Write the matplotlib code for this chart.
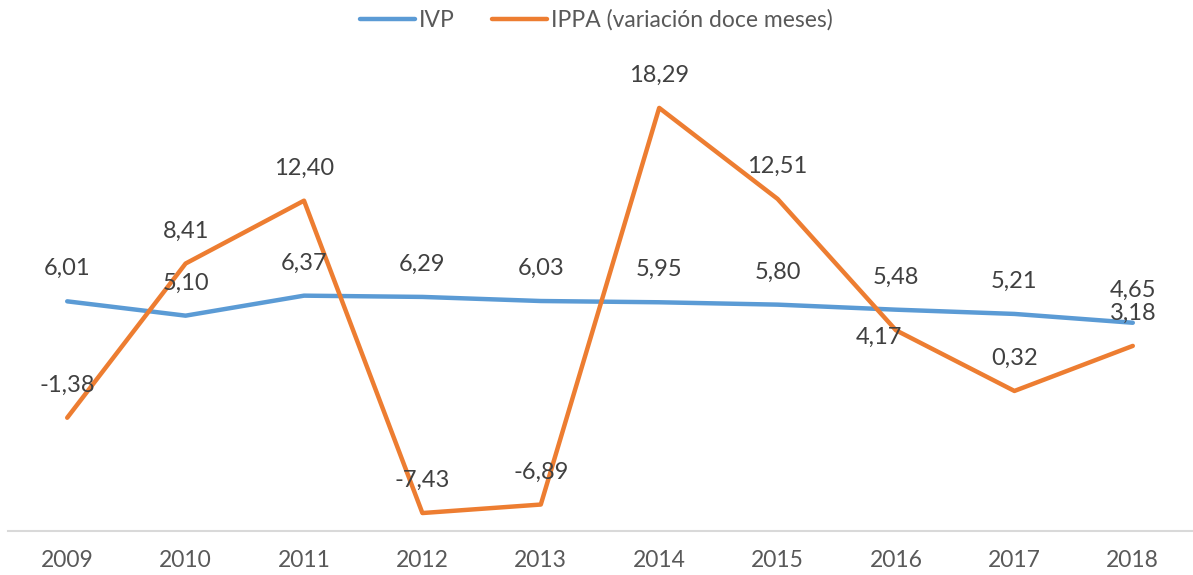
import matplotlib
matplotlib.use("Agg")
import matplotlib.pyplot as plt

plt.rcParams['font.family'] = ['Lato', 'DejaVu Sans']

years = ["2009", "2010", "2011", "2012", "2013", "2014", "2015", "2016", "2017", "2018"]
ivp = [6.01, 5.10, 6.37, 6.29, 6.03, 5.95, 5.80, 5.48, 5.21, 4.65]
ippa = [-1.38, 8.41, 12.40, -7.43, -6.89, 18.29, 12.51, 4.17, 0.32, 3.18]

blue = "#5B9BD5"
orange = "#ED7D31"
txt = "#404040"

fig = plt.figure(figsize=(11.93, 5.75), dpi=100)
ax = fig.add_axes([8 / 1193, 1 - 531 / 575, 1184 / 1193, 471 / 575])

x = list(range(len(years)))
ax.plot(x, ivp, color=blue, lw=3.2, solid_capstyle="round", label="IVP")
ax.plot(x, ippa, color=orange, lw=3.2, solid_capstyle="round",
        label="IPPA (variación doce meses)")

def fmt(v):
    return ("%.2f" % v).replace(".", ",")

for i, v in enumerate(ivp):
    ax.annotate(fmt(v), (i, v), xytext=(0, 23.5), textcoords="offset points",
                ha="center", va="center", fontsize=17, color=txt)
for i, v in enumerate(ippa):
    off = (0, 23.5)
    if i == 7:
        off = (-12, -5)
    ax.annotate(fmt(v), (i, v), xytext=off, textcoords="offset points",
                ha="center", va="center", fontsize=17, color=txt)

ax.set_xlim(-0.5, 9.5)
ax.set_ylim(-8.57, 21.33)
ax.set_xticks(x)
ax.set_xticklabels(years, fontsize=16.5, color="#595959")
ax.set_yticks([])
ax.tick_params(axis="x", length=0, pad=14)
for s in ["left", "right", "top"]:
    ax.spines[s].set_visible(False)
ax.spines["bottom"].set_color("#D9D9D9")
ax.spines["bottom"].set_linewidth(1.5)

fig.legend(loc="center", bbox_to_anchor=(0.5, 1 - 20 / 575), ncol=2, frameon=False,
           fontsize=16.5, handlelength=2.4, columnspacing=1.6, handletextpad=0.2,
           labelcolor="#595959")

fig.savefig("out.png", dpi=100)
